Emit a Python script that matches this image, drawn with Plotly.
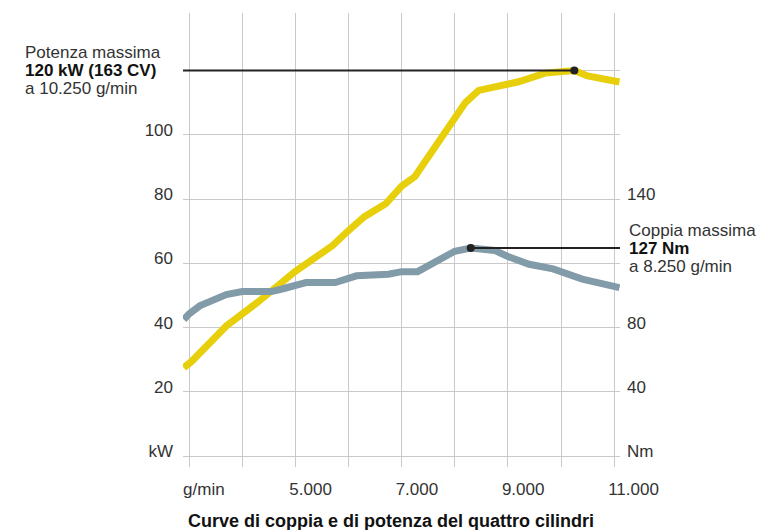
import plotly.graph_objects as go

# ---- data ----
rpm_power = [2900, 3050, 3700, 4300, 5000, 5400, 5700, 6000, 6300, 6700, 7000, 7250,
             7550, 7850, 8000, 8200, 8450, 8800, 9200, 9700, 10250, 10500, 11100]
kw_power = [27.5, 29.5, 40.5, 48.0, 57.5, 62.0, 65.5, 70.2, 74.5, 78.5, 84.0, 87.0,
            94.5, 101.5, 105.0, 110.0, 113.8, 115.2, 116.5, 119.2, 120.0, 118.3, 116.4]

rpm_torque = [2900, 3000, 3200, 3700, 4000, 4550, 4750, 5000, 5200, 5750, 6150, 6750,
              7000, 7300, 7650, 8000, 8300, 8550, 8750, 9000, 9400, 9850, 10050, 10400, 11100]
nm_torque = [85, 88.5, 93.5, 100.5, 102.4, 102.4, 104, 106, 108, 108, 112.2, 113.2,
             114.8, 114.8, 121.5, 127.5, 129.5, 129, 128, 124.2, 119.4, 116.5, 114.5, 110.2, 104.8]

power_peak_rpm, power_peak_kw = 10250, 120.0
torque_peak_rpm, torque_peak_nm = 8300, 129.5

x_tickvals = [3000, 5000, 7000, 9000, 11000]
x_ticktext = ["g/min", "5.000", "7.000", "9.000", "11.000"]
kw_tickvals = [0, 20, 40, 60, 80, 100, 120]
kw_ticktext = ["kW", "20", "40", "60", "80", "100", ""]
nm_tickvals = [0, 40, 80, 160]
nm_ticktext = ["Nm", "40", "80", "140"]

power_label = ["Potenza massima", "<b>120 kW (163 CV)</b>", "a 10.250 g/min"]
torque_label = ["Coppia massima", "<b>127 Nm</b>", "a 8.250 g/min"]
title_text = "<b>Curve di coppia e di potenza del quattro cilindri</b>"

x_range = [2885, 11110]
kw_range = [-3.4, 137.9]
nm_range = [2 * v for v in kw_range]

YELLOW = "#E8CF0C"
SLATE = "#829BA8"
DARK = "#222222"
TXT = "#333333"
GRID = "#C9C9C9"
FONT = "Liberation Sans"
FS = 17

fig = go.Figure()

fig.add_trace(go.Scatter(x=rpm_torque, y=nm_torque, yaxis="y2", mode="lines",
                         line=dict(color=SLATE, width=7), hoverinfo="skip"))
fig.add_trace(go.Scatter(x=rpm_power, y=kw_power, mode="lines",
                         line=dict(color=YELLOW, width=7), hoverinfo="skip"))

# leader lines and peak dots
fig.add_trace(go.Scatter(x=[x_range[0], power_peak_rpm], y=[power_peak_kw, power_peak_kw],
                         mode="lines", line=dict(color=DARK, width=2), hoverinfo="skip"))
fig.add_trace(go.Scatter(x=[power_peak_rpm], y=[power_peak_kw], mode="markers",
                         marker=dict(color=DARK, size=8), hoverinfo="skip", cliponaxis=False))
fig.add_trace(go.Scatter(x=[torque_peak_rpm, x_range[1]], y=[torque_peak_nm, torque_peak_nm],
                         yaxis="y2", mode="lines", line=dict(color=DARK, width=2), hoverinfo="skip"))
fig.add_trace(go.Scatter(x=[torque_peak_rpm], y=[torque_peak_nm], yaxis="y2", mode="markers",
                         marker=dict(color=DARK, size=8), hoverinfo="skip", cliponaxis=False))

annotations = []
for i, t in enumerate(power_label):
    annotations.append(dict(text=t, xref="paper", x=-0.367, xanchor="left",
                            yref="y", y=power_peak_kw, yanchor="middle",
                            yshift=18 * (1 - i), showarrow=False,
                            font=dict(family=FONT, size=FS, color="#111111" if i == 1 else TXT)))
for i, t in enumerate(torque_label):
    annotations.append(dict(text=t, xref="paper", x=1.016, xanchor="left",
                            yref="y2", y=torque_peak_nm, yanchor="middle",
                            yshift=18 * (1 - i), showarrow=False,
                            font=dict(family=FONT, size=FS, color="#111111" if i == 1 else TXT)))
annotations.append(dict(text=title_text, xref="paper", x=0.475, xanchor="center",
                        yref="paper", y=-0.118, yanchor="middle", showarrow=False,
                        font=dict(family=FONT, size=18, color="#111111")))

fig.update_layout(
    width=761, height=530, autosize=False,
    margin=dict(l=183, r=141, t=13, b=63),
    paper_bgcolor="white", plot_bgcolor="white",
    showlegend=False,
    font=dict(family=FONT, size=FS, color=TXT),
    annotations=annotations,
    xaxis=dict(range=x_range, tickvals=x_tickvals, ticktext=x_ticktext,
               showgrid=True, gridcolor=GRID, gridwidth=1.3,
               minor=dict(dtick=1000, tick0=3000, showgrid=True, gridcolor=GRID, gridwidth=1.3),
               zeroline=False, showline=False, ticks="",
               ticklabelposition="outside right", ticklabelshift=-6, ticklabelstandoff=10,
               tickfont=dict(family=FONT, size=FS, color=TXT), fixedrange=True),
    yaxis=dict(range=kw_range, tickvals=kw_tickvals, ticktext=kw_ticktext,
               showgrid=True, gridcolor=GRID, gridwidth=1.3, zeroline=False, showline=False,
               ticks="", ticklabelshift=-5, ticklabelstandoff=9,
               tickfont=dict(family=FONT, size=FS, color=TXT), fixedrange=True),
    yaxis2=dict(range=nm_range, tickvals=nm_tickvals, ticktext=nm_ticktext,
                overlaying="y", side="right", showgrid=False, zeroline=False, showline=False,
                ticks="", ticklabelshift=-5, ticklabelstandoff=6,
                tickfont=dict(family=FONT, size=FS, color=TXT), fixedrange=True),
)

fig.write_html("out.html", config={"displayModeBar": False},
               post_script="document.body.style.margin='0';")
